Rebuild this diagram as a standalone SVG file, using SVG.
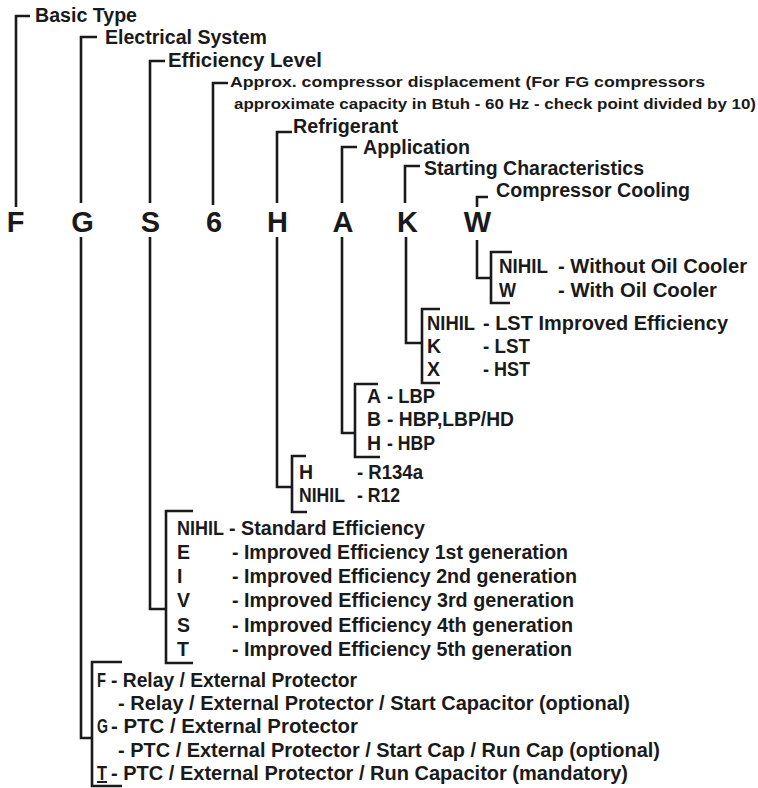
<svg xmlns="http://www.w3.org/2000/svg" width="758" height="788" viewBox="0 0 758 788">
<style>
text{font-family:"Liberation Sans Narrow","Liberation Sans",Arial,sans-serif;font-weight:bold;fill:#1a1a1a}
.h{font-size:19.5px}
.s{font-size:14.5px;font-family:"Liberation Sans",Arial,sans-serif}
.b{font-size:19.5px}
.big{font-size:29px;text-anchor:middle;font-family:"Liberation Sans",Arial,sans-serif}
.ln{fill:none;stroke:#1a1a1a;stroke-width:2.6;stroke-linejoin:miter;stroke-linecap:butt}
</style>
<rect width="758" height="788" fill="#ffffff"/>
<g id="connectors" class="ln">
<path d="M30,16 H16 V207"/>
<path d="M97,37 H81 V203"/>
<path d="M81,237 V738 H92"/>
<path d="M122,662 H92 V786 H122"/>
<path d="M165,61 H150 V203"/>
<path d="M150,237 V609 H166"/>
<path d="M193,511 H166 V663 H193"/>
<path d="M228,83 H213 V205"/>
<path d="M292,132 H277 V203"/>
<path d="M277,237 V487 H292"/>
<path d="M306,456 H292 V512 H307"/>
<path d="M357,147 H342 V203"/>
<path d="M342,237 V433 H355"/>
<path d="M378,384 H355 V457 H380"/>
<path d="M420,166 H405 V203"/>
<path d="M406,237 V343 H422"/>
<path d="M440,309 H422 V383 H440"/>
<path d="M488,197 H477 V207"/>
<path d="M477,240 V278 H491"/>
<path d="M512,252 H491 V303 H510"/>
<path d="M97,782 H107" stroke-width="2"/>
</g>
<g id="code">
<text class="big" x="15.5" y="232">F</text>
<text class="big" x="82.5" y="232">G</text>
<text class="big" x="150.5" y="232">S</text>
<text class="big" x="214" y="232">6</text>
<text class="big" x="277.5" y="232">H</text>
<text class="big" x="343" y="232">A</text>
<text class="big" x="407.5" y="232">K</text>
<text class="big" x="477.5" y="232">W</text>
</g>
<g id="basic-type"><text class="h" x="35" y="22" textLength="102" lengthAdjust="spacingAndGlyphs">Basic Type</text></g>
<g id="electrical-system"><text class="h" x="105" y="44" textLength="162" lengthAdjust="spacingAndGlyphs">Electrical System</text></g>
<g id="efficiency-level"><text class="h" x="168" y="67" textLength="154" lengthAdjust="spacingAndGlyphs">Efficiency Level</text></g>
<g id="displacement">
<text class="s" x="230" y="87" textLength="475" lengthAdjust="spacingAndGlyphs">Approx. compressor displacement (For FG compressors</text>
<text class="s" x="234" y="109" textLength="522" lengthAdjust="spacingAndGlyphs">approximate capacity in Btuh - 60 Hz - check point divided by 10)</text>
</g>
<g id="refrigerant"><text class="h" x="293" y="133" textLength="105" lengthAdjust="spacingAndGlyphs">Refrigerant</text></g>
<g id="application"><text class="h" x="363" y="154" textLength="107" lengthAdjust="spacingAndGlyphs">Application</text></g>
<g id="starting"><text class="h" x="424" y="175" textLength="220" lengthAdjust="spacingAndGlyphs">Starting Characteristics</text></g>
<g id="cooling"><text class="h" x="496" y="197" textLength="194" lengthAdjust="spacingAndGlyphs">Compressor Cooling</text></g>
<g id="cooling-options">
<text class="b" x="499" y="273" textLength="49" lengthAdjust="spacingAndGlyphs">NIHIL</text>
<text class="b" x="558" y="273" textLength="189" lengthAdjust="spacingAndGlyphs">- Without Oil Cooler</text>
<text class="b" x="499" y="297" textLength="17" lengthAdjust="spacingAndGlyphs">W</text>
<text class="b" x="558" y="297" textLength="159" lengthAdjust="spacingAndGlyphs">- With Oil Cooler</text>
</g>
<g id="starting-options">
<text class="b" x="427" y="330" textLength="48" lengthAdjust="spacingAndGlyphs">NIHIL</text>
<text class="b" x="483" y="330" textLength="245" lengthAdjust="spacingAndGlyphs">- LST Improved Efficiency</text>
<text class="b" x="427" y="353">K</text>
<text class="b" x="483" y="353" textLength="47" lengthAdjust="spacingAndGlyphs">- LST</text>
<text class="b" x="427" y="376">X</text>
<text class="b" x="483" y="376" textLength="47" lengthAdjust="spacingAndGlyphs">- HST</text>
</g>
<g id="application-options">
<text class="b" x="367" y="403">A</text>
<text class="b" x="387" y="403" textLength="48" lengthAdjust="spacingAndGlyphs">- LBP</text>
<text class="b" x="367" y="426">B</text>
<text class="b" x="387" y="426" textLength="127" lengthAdjust="spacingAndGlyphs">- HBP,LBP/HD</text>
<text class="b" x="367" y="450">H</text>
<text class="b" x="387" y="450" textLength="48" lengthAdjust="spacingAndGlyphs">- HBP</text>
</g>
<g id="refrigerant-options">
<text class="b" x="299" y="479">H</text>
<text class="b" x="357" y="479" textLength="66" lengthAdjust="spacingAndGlyphs">- R134a</text>
<text class="b" x="299" y="502" textLength="46" lengthAdjust="spacingAndGlyphs">NIHIL</text>
<text class="b" x="357" y="502" textLength="43" lengthAdjust="spacingAndGlyphs">- R12</text>
</g>
<g id="efficiency-options">
<text class="b" x="177" y="535" textLength="47" lengthAdjust="spacingAndGlyphs">NIHIL</text>
<text class="b" x="229" y="535" textLength="196" lengthAdjust="spacingAndGlyphs">- Standard Efficiency</text>
<text class="b" x="177" y="559">E</text>
<text class="b" x="232" y="559" textLength="336" lengthAdjust="spacingAndGlyphs">- Improved Efficiency 1st generation</text>
<text class="b" x="177" y="583">I</text>
<text class="b" x="232" y="583" textLength="345" lengthAdjust="spacingAndGlyphs">- Improved Efficiency 2nd generation</text>
<text class="b" x="177" y="607">V</text>
<text class="b" x="232" y="607" textLength="342" lengthAdjust="spacingAndGlyphs">- Improved Efficiency 3rd generation</text>
<text class="b" x="177" y="632">S</text>
<text class="b" x="232" y="632" textLength="341" lengthAdjust="spacingAndGlyphs">- Improved Efficiency 4th generation</text>
<text class="b" x="177" y="656">T</text>
<text class="b" x="232" y="656" textLength="340" lengthAdjust="spacingAndGlyphs">- Improved Efficiency 5th generation</text>
</g>
<g id="electrical-options">
<text class="b" x="97" y="687" textLength="9" lengthAdjust="spacingAndGlyphs">F</text>
<text class="b" x="111" y="687" textLength="246" lengthAdjust="spacingAndGlyphs">- Relay / External Protector</text>
<text class="b" x="118" y="710" textLength="512" lengthAdjust="spacingAndGlyphs">- Relay / External Protector / Start Capacitor (optional)</text>
<text class="b" x="97" y="733" textLength="11" lengthAdjust="spacingAndGlyphs">G</text>
<text class="b" x="111" y="733" textLength="247" lengthAdjust="spacingAndGlyphs">- PTC / External Protector</text>
<text class="b" x="118" y="757" textLength="542" lengthAdjust="spacingAndGlyphs">- PTC / External Protector / Start Cap / Run Cap (optional)</text>
<text class="b" x="97" y="780" textLength="10" lengthAdjust="spacingAndGlyphs">T</text>
<text class="b" x="111" y="780" textLength="517" lengthAdjust="spacingAndGlyphs">- PTC / External Protector / Run Capacitor (mandatory)</text>
</g>
</svg>
